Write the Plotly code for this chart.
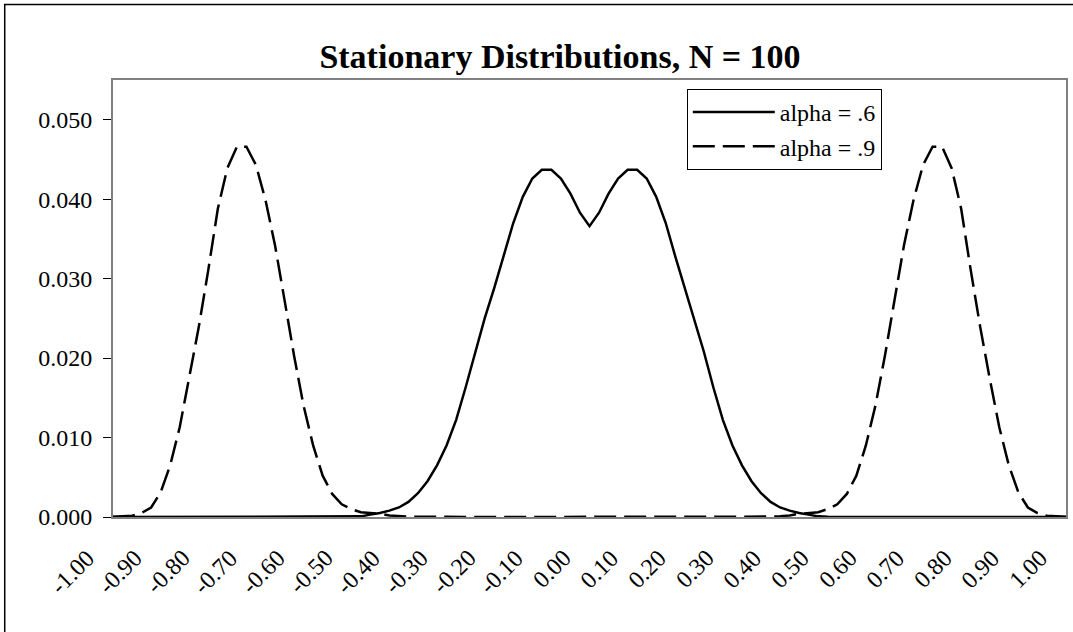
import plotly.graph_objects as go

# Category axis: states -1.00 .. 1.00 in steps of 0.02 (N = 100)
x_states = [round(-1 + 0.02 * i, 2) for i in range(101)]

# alpha = .6 (solid), left half -1.00 .. 0.00
alpha06_left = [
    0.0, 0.0, 0.0, 0.0, 0.0, 0.0, 0.0, 0.0, 0.0, 0.0,          # -1.00 .. -0.82
    0.0, 0.0, 0.0, 0.0, 0.0, 0.0, 0.0, 0.0, 0.0, 0.0,          # -0.80 .. -0.62
    0.0, 0.0, 0.0, 0.00001, 0.00002, 0.00004, 0.00008, 0.0003, 0.0005, 0.0008,  # -0.60 .. -0.42
    0.0012, 0.0019, 0.0030, 0.0045, 0.0065, 0.0090, 0.0122, 0.0163, 0.0208, 0.0250,  # -0.40 .. -0.22
    0.0288, 0.0328, 0.0370, 0.0403, 0.0426, 0.0437, 0.0437, 0.0426, 0.0407, 0.0383,  # -0.20 .. -0.02
    0.0366,                                                     # 0.00
]
# alpha = .9 (dashed), left half -1.00 .. 0.00
alpha09_left = [
    0.00002, 0.00005, 0.00015, 0.0005, 0.0012, 0.0031, 0.0065, 0.0113, 0.0174, 0.0239,  # -1.00 .. -0.82
    0.0311, 0.0388, 0.0439, 0.0466, 0.0466, 0.0443, 0.0399, 0.0342, 0.0273, 0.0203,      # -0.80 .. -0.62
    0.0140, 0.0090, 0.0052, 0.0029, 0.0016, 0.0010, 0.0006, 0.0005, 0.0004, 0.0002,      # -0.60 .. -0.42
    0.0001, 0.00005, 0.00003, 0.00001, 0.0, 0.0, 0.0, 0.0, 0.0, 0.0,                     # -0.40 .. -0.22
    0.0, 0.0, 0.0, 0.0, 0.0, 0.0, 0.0, 0.0, 0.0, 0.0,                                    # -0.20 .. -0.02
    0.0,                                                                                  # 0.00
]
# the picture is symmetric about 0.00: right half read as the mirror image
alpha06 = alpha06_left + alpha06_left[-2::-1]
alpha09 = alpha09_left + alpha09_left[-2::-1]

x_tickvals = [round(-1 + 0.1 * i, 1) for i in range(21)]
x_ticktext = ["-1.00", "-0.90", "-0.80", "-0.70", "-0.60", "-0.50", "-0.40", "-0.30",
              "-0.20", "-0.10", "0.00", "0.10", "0.20", "0.30", "0.40", "0.50",
              "0.60", "0.70", "0.80", "0.90", "1.00"]
y_tickvals = [0.0, 0.01, 0.02, 0.03, 0.04, 0.05]

FONT = "Liberation Serif, Times New Roman, serif"
W, H = 1073, 632
L, R, T, B = 113, 5, 80, 115

fig = go.Figure()
fig.add_trace(go.Scatter(
    x=x_states, y=alpha06, mode="lines", name="alpha = .6",
    line=dict(color="black", width=2.5),
))
fig.add_trace(go.Scatter(
    x=x_states, y=alpha09, mode="lines", name="alpha = .9",
    line=dict(color="black", width=2.5, dash="22px,8px"),
))

pw = W - L - R
ph = H - T - B
def px_x(p):
    return (p - L) / pw
def px_y(p):
    return (H - B - p) / ph

# rotated category labels, anchored at their end on each tick of the x axis
for v, txt in zip(x_tickvals, x_ticktext):
    fig.add_annotation(x=v, xref="x", y=0, yref="paper", text=txt,
                       textangle=-45, showarrow=False,
                       xanchor="right", yanchor="top", xshift=-11, yshift=-25,
                       font=dict(family=FONT, size=24, color="black"))

fig.update_layout(
    width=W, height=H, autosize=False,
    margin=dict(l=L, r=R, t=T, b=B, pad=0),
    paper_bgcolor="white", plot_bgcolor="white",
    font=dict(family=FONT, size=24, color="black"),
    title=dict(text="<b>Stationary Distributions, N = 100</b>",
               font=dict(family=FONT, size=34, color="black"),
               x=560 / W, xref="container", xanchor="center",
               y=(H - 56) / H, yref="container", yanchor="middle"),
    showlegend=True,
    legend=dict(x=px_x(688), y=px_y(89), xanchor="left", yanchor="top",
                bgcolor="white", bordercolor="black", borderwidth=1,
                font=dict(family=FONT, size=24, color="black"),
                itemwidth=82, tracegroupgap=0),
    xaxis=dict(range=[-1, 1], tickmode="array", tickvals=x_tickvals,
               showticklabels=False, ticks="", showgrid=False, zeroline=False,
               showline=True, linecolor="#808080", linewidth=2, mirror=True),
    yaxis=dict(range=[0, 0.055], tickmode="array", tickvals=y_tickvals, tickformat=".3f",
               ticks="outside", ticklen=8, tickwidth=1, tickcolor="black",
               showgrid=False, zeroline=False,
               showline=True, linecolor="#808080", linewidth=2, mirror=True,
               tickfont=dict(family=FONT, size=24, color="black"),
               ticklabelstandoff=6),
    yaxis2=dict(range=[0, 0.055], overlaying="y", side="left", tickmode="array",
                tickvals=y_tickvals, ticks="inside", ticklen=7, tickwidth=1,
                tickcolor="black", showticklabels=False, showgrid=False,
                zeroline=False, showline=False),
)

# outer chart-area frame (right and bottom edges fall outside the picture)
fig.add_shape(type="rect", xref="paper", yref="paper",
              x0=px_x(4.5), y0=px_y(H + 20), x1=px_x(W + 20), y1=px_y(4.5),
              line=dict(color="black", width=1.5), fillcolor="rgba(0,0,0,0)",
              layer="below")

fig.write_html("out.html", config={"displayModeBar": False},
               post_script="document.body.style.margin='0';document.body.style.overflow='hidden';")
